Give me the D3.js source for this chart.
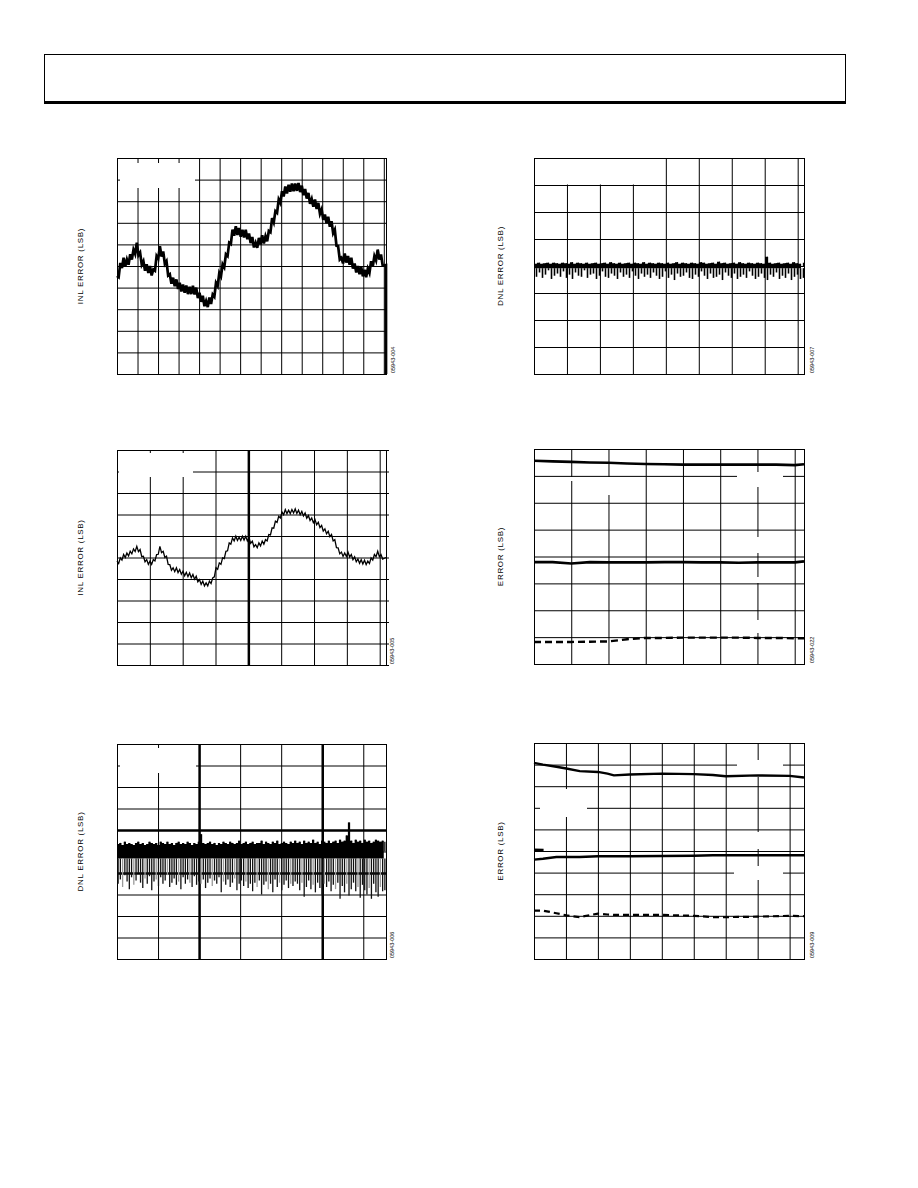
<!DOCTYPE html>
<html><head><meta charset="utf-8">
<script src="https://cdn.jsdelivr.net/npm/d3@7"></script>
<style>
body{margin:0;background:#fff;}
svg{display:block;}
text{font-family:"Liberation Sans",Arial,sans-serif;fill:#000;}
</style></head><body>
<svg id="page" width="918" height="1188"></svg>
<script>
// ---------------- DATA ----------------
// Panel 1: INL vs code (thick trace)
const inl1XTicks = [0,5000,10000,15000,20000,25000,30000,35000,40000,45000,50000,55000,60000,65000];
const inl1YTicks = [-2.5,-2,-1.5,-1,-0.5,0,0.5,1,1.5,2,2.5];
const inl1SampleStep = 402;
const inl1Values = [
-0.23,-0.26,0.07,-0.05,0.19,-0.01,0.15,0.03,0.27,0.15,0.38,0.28,0.54,0.25,0.31,0.03,0.11,-0.11,0.04,-0.16,
0.00,-0.22,-0.08,-0.11,0.23,0.17,0.46,0.22,0.34,0.05,0.11,-0.22,-0.19,-0.41,-0.27,-0.47,-0.31,-0.53,-0.39,-0.59,
-0.43,-0.62,-0.45,-0.65,-0.48,-0.65,-0.46,-0.66,-0.50,-0.74,-0.62,-0.83,-0.69,-0.93,-0.81,-0.95,-0.73,-0.88,-0.66,-0.71,
-0.39,-0.46,-0.16,-0.24,0.04,-0.03,0.27,0.23,0.54,0.51,0.84,0.70,0.92,0.72,0.88,0.68,0.84,0.66,0.84,0.62,
0.75,0.53,0.67,0.43,0.54,0.42,0.65,0.50,0.71,0.52,0.69,0.57,0.81,0.78,1.11,1.01,1.27,1.23,1.54,1.46,
1.73,1.61,1.84,1.68,1.88,1.72,1.91,1.73,1.91,1.74,1.92,1.71,1.86,1.64,1.78,1.56,1.69,1.44,1.55,1.37,
1.54,1.32,1.46,1.21,1.31,1.07,1.19,0.99,1.14,0.91,1.04,0.76,0.84,0.47,0.46,0.15,0.19,0.06,0.29,0.08,
0.23,0.03,0.19,-0.06,0.06,-0.15,0.00,-0.19,-0.02,-0.24,-0.09,-0.26,-0.06,-0.16,0.11,-0.01,0.23,0.13,0.38,0.15,
0.27,0.01
];
const inl1Tail = [[65536,0.02],[65536,-2.5]];

// Panel 2: DNL vs code (top right)
const dnl2XTicks = [0,8000,16000,24000,32000,40000,48000,56000,64000];
const dnl2YTicks = [-1,-0.75,-0.5,-0.25,0,0.25,0.5,0.75,1];
const dnl2BandFloor = -0.02;
const dnl2Hi = [
0.02,0.03,0.02,0.025,0.03,0.02,0.03,0.025,0.02,0.03,
0.025,0.02,0.035,0.02,0.03,0.025,0.02,0.03,0.02,0.025,
0.03,0.02,0.025,0.03,0.02,0.035,0.025,0.02,0.03,0.02,
0.025,0.03,0.02,0.03,0.025,0.02,0.035,0.02,0.03,0.025,
0.02,0.03,0.025,0.02,0.03,0.02,0.025,0.035,0.02,0.03,
0.025,0.02,0.03,0.025,0.02,0.035,0.03,0.02,0.025,0.03,
0.02,0.04,0.025,0.03,0.02,0.025,0.03,0.02,0.035,0.025,
0.02,0.03,0.025,0.02,0.03,0.025,0.02,0.085,0.03,0.02,
0.025,0.03,0.02,0.025,0.03,0.02,0.035,0.025,0.02,0.03];
const dnl2Lo = [
-0.10,-0.06,-0.11,-0.08,-0.04,-0.12,-0.09,-0.07,-0.10,-0.05,
-0.11,-0.08,-0.12,-0.06,-0.09,-0.10,-0.04,-0.11,-0.08,-0.07,
-0.12,-0.09,-0.05,-0.10,-0.11,-0.07,-0.09,-0.12,-0.06,-0.10,
-0.08,-0.11,-0.05,-0.09,-0.12,-0.07,-0.10,-0.08,-0.11,-0.06,
-0.09,-0.12,-0.10,-0.05,-0.11,-0.08,-0.13,-0.07,-0.10,-0.09,
-0.06,-0.11,-0.12,-0.08,-0.10,-0.05,-0.09,-0.12,-0.07,-0.11,
-0.10,-0.08,-0.13,-0.06,-0.09,-0.11,-0.07,-0.12,-0.10,-0.08,
-0.11,-0.05,-0.09,-0.12,-0.10,-0.07,-0.11,-0.13,-0.08,-0.10,
-0.06,-0.12,-0.09,-0.11,-0.07,-0.13,-0.10,-0.08,-0.12,-0.11];

// Panel 3: INL vs code (thin trace)
const inl3XTicks = [0,8000,16000,24000,32000,40000,48000,56000,64000];
const inl3YTicks = [-5,-4,-3,-2,-1,0,1,2,3,4,5];
const inl3SampleStep = 402;
const inl3Values = [
-0.17,-0.28,-0.02,-0.12,0.14,0.00,0.21,0.07,0.29,0.17,0.40,0.28,0.52,0.27,0.37,0.04,0.06,-0.20,-0.10,-0.32,
-0.17,-0.32,-0.10,-0.16,0.14,0.15,0.52,0.23,0.29,0.00,0.06,-0.32,-0.33,-0.59,-0.48,-0.66,-0.48,-0.70,-0.56,-0.78,
-0.64,-0.85,-0.69,-0.89,-0.72,-0.94,-0.79,-1.01,-0.87,-1.13,-1.03,-1.25,-1.10,-1.32,-1.18,-1.32,-1.10,-1.21,-0.95,-0.90,
-0.48,-0.55,-0.25,-0.32,-0.02,-0.05,0.29,0.31,0.68,0.62,0.91,0.77,0.99,0.79,0.94,0.79,0.99,0.81,0.99,0.77,
0.91,0.66,0.76,0.50,0.60,0.46,0.68,0.54,0.76,0.62,0.83,0.77,1.07,1.05,1.38,1.36,1.69,1.63,1.92,1.84,
2.11,1.99,2.23,2.04,2.20,2.04,2.23,2.07,2.26,2.05,2.20,1.99,2.14,1.93,2.07,1.83,1.95,1.72,1.84,1.62,
1.76,1.52,1.64,1.39,1.49,1.23,1.33,1.10,1.22,0.97,1.07,0.77,0.83,0.46,0.45,0.17,0.25,0.05,0.21,0.05,
0.25,0.02,0.14,-0.10,0.03,-0.20,-0.07,-0.27,-0.10,-0.30,-0.13,-0.33,-0.17,-0.28,-0.02,-0.12,0.14,0.04,0.29,0.04,
0.14,-0.07
];
const inl3Tail = [[65536,0.0]];

// Panel 4: error vs temperature (three traces)
const err4XTicks = [-40,-20,0,20,40,60,80,100];
const err4YTicks = [-2,-1.5,-1,-0.5,0,0.5,1,1.5,2];
const err4Temp = [-40,-30,-20,-10,0,10,20,30,40,50,60,70,80,90,100,105];
const err4Top = [1.78,1.77,1.76,1.75,1.745,1.73,1.72,1.715,1.71,1.71,1.71,1.71,1.71,1.71,1.70,1.715];
const err4Mid = [-0.105,-0.105,-0.13,-0.105,-0.11,-0.11,-0.11,-0.105,-0.105,-0.11,-0.11,-0.115,-0.11,-0.11,-0.11,-0.09];
const err4Dash = [-1.59,-1.59,-1.59,-1.585,-1.58,-1.54,-1.515,-1.515,-1.51,-1.51,-1.51,-1.51,-1.515,-1.515,-1.52,-1.52];

// Panel 5: DNL vs code (dense)
const dnl5XTicks = [0,10000,20000,30000,40000,50000,60000];
const dnl5YTicks = [-1,-0.8,-0.6,-0.4,-0.2,0,0.2,0.4,0.6,0.8,1];
const dnl5BandFloor = -0.065;
const dnl5Hi = [
0.07,0.08,0.06,0.09,0.07,0.08,0.07,0.06,0.08,0.09,0.07,0.08,0.06,0.07,0.09,0.08,0.07,0.08,0.06,0.09,
0.08,0.07,0.09,0.07,0.08,0.06,0.08,0.09,0.07,0.08,0.07,0.09,0.08,0.06,0.08,0.07,0.09,0.16,0.08,0.07,
0.08,0.09,0.07,0.08,0.06,0.08,0.07,0.09,0.08,0.07,0.09,0.08,0.07,0.08,0.10,0.07,0.08,0.09,0.07,0.08,
0.09,0.07,0.08,0.08,0.10,0.07,0.09,0.08,0.07,0.09,0.08,0.10,0.07,0.08,0.09,0.08,0.07,0.09,0.08,0.10,
0.08,0.09,0.07,0.10,0.08,0.09,0.08,0.11,0.08,0.09,0.07,0.10,0.09,0.08,0.10,0.08,0.09,0.10,0.08,0.11,
0.09,0.10,0.15,0.27,0.10,0.08,0.11,0.09,0.10,0.08,0.11,0.09,0.10,0.08,0.09,0.11,0.10,0.09,0.10,0.09];
const dnl5Lo = [
-0.30,-0.26,-0.33,-0.22,-0.28,-0.35,-0.24,-0.31,-0.27,-0.20,-0.29,-0.34,-0.25,-0.30,-0.23,-0.36,-0.28,-0.26,-0.32,-0.24,
-0.30,-0.27,-0.22,-0.33,-0.29,-0.25,-0.31,-0.28,-0.35,-0.24,-0.30,-0.26,-0.29,-0.33,-0.23,-0.31,-0.28,-0.30,-0.26,-0.34,
-0.29,-0.25,-0.32,-0.27,-0.30,-0.24,-0.38,-0.28,-0.31,-0.26,-0.33,-0.29,-0.25,-0.36,-0.30,-0.27,-0.32,-0.28,-0.34,-0.30,
-0.37,-0.29,-0.33,-0.27,-0.40,-0.31,-0.28,-0.35,-0.30,-0.38,-0.26,-0.33,-0.29,-0.36,-0.31,-0.27,-0.34,-0.30,-0.32,-0.28,
-0.30,-0.36,-0.29,-0.42,-0.33,-0.27,-0.35,-0.31,-0.38,-0.29,-0.34,-0.40,-0.30,-0.33,-0.28,-0.37,-0.31,-0.35,-0.29,-0.44,
-0.32,-0.38,-0.30,-0.41,-0.35,-0.29,-0.37,-0.33,-0.43,-0.31,-0.36,-0.40,-0.34,-0.44,-0.30,-0.38,-0.42,-0.33,-0.37,-0.36];

// Panel 6: error vs second parameter (three traces + short fragment)
const err6XTicks = [0,100,200,300,400,500,600,700,800];
const err6YTicks = [-2.5,-2,-1.5,-1,-0.5,0,0.5,1,1.5,2,2.5];
const err6X = [0,28,70,101,143,200,230,250,300,400,500,560,600,700,800,845];
const err6Top = [2.04,2.00,1.95,1.91,1.85,1.83,1.79,1.75,1.77,1.79,1.78,1.76,1.73,1.75,1.74,1.70];
const err6Mid = [-0.20,-0.18,-0.14,-0.14,-0.14,-0.12,-0.12,-0.12,-0.12,-0.115,-0.11,-0.10,-0.10,-0.10,-0.10,-0.10];
const err6Dash = [-1.38,-1.38,-1.44,-1.49,-1.53,-1.45,-1.47,-1.48,-1.48,-1.48,-1.50,-1.53,-1.53,-1.52,-1.50,-1.51];
const err6FragX = [0,30];
const err6FragY = [0.03,0.02];

const figCodes = ["05943-004","05943-007","05943-005","05943-022","05943-006","05943-009"];
const yLabels = ["INL ERROR (LSB)","DNL ERROR (LSB)","INL ERROR (LSB)","ERROR (LSB)","DNL ERROR (LSB)","ERROR (LSB)"];

// ---------------- DRAW ----------------
const svg = d3.select("#page");

// header box
svg.append("rect").attr("x",44.5).attr("y",54.5).attr("width",801).attr("height",47)
  .attr("fill","none").attr("stroke","#000").attr("stroke-width",1);
svg.append("line").attr("x1",44).attr("x2",846).attr("y1",102.5).attr("y2",102.5)
  .attr("stroke","#000").attr("stroke-width",3);

function panel(cfg){
  const g = svg.append("g").attr("transform",`translate(${cfg.left},${cfg.top})`);
  const x = d3.scaleLinear().domain(cfg.xDomain).range([0,cfg.w]);
  const y = d3.scaleLinear().domain(cfg.yDomain).range([cfg.h,0]);
  const gx = g.append("g").call(d3.axisBottom(x).tickValues(cfg.xTicks).tickSize(cfg.h).tickFormat(""));
  gx.select(".domain").remove();
  gx.selectAll(".tick line").attr("stroke","#000")
    .attr("stroke-width",d=>(cfg.thickX||[]).includes(d)?2.5:1);
  const gy = g.append("g").call(d3.axisRight(y).tickValues(cfg.yTicks).tickSize(cfg.w+(cfg.tickOut||0)).tickFormat(""));
  gy.select(".domain").remove();
  gy.selectAll(".tick line").attr("stroke","#000")
    .attr("stroke-width",d=>(cfg.thickY||[]).includes(d)?2.5:1);
  (cfg.erase||[]).forEach(r=>{
    g.append("rect").attr("x",r[0]).attr("y",r[1]).attr("width",r[2]).attr("height",r[3]).attr("fill","#fff");
  });
  g.append("rect").attr("x",0.5).attr("y",0.5).attr("width",cfg.w).attr("height",cfg.h)
    .attr("fill","none").attr("stroke","#000").attr("stroke-width",1);
  svg.append("text")
    .attr("transform",`translate(${cfg.labelX},${cfg.top+cfg.h/2}) rotate(-90)`)
    .attr("text-anchor","middle").attr("dominant-baseline","central")
    .attr("font-size",8).attr("letter-spacing",0.7).text(cfg.label);
  svg.append("text")
    .attr("transform",`translate(${cfg.codeX},${cfg.top+cfg.h-1}) rotate(-90)`)
    .attr("text-anchor","start").attr("dominant-baseline","central")
    .attr("font-size",5.5).text(cfg.code);
  const data = g.append("g");
  return {g:data,x,y};
}

// Panel 1
{
  const p = panel({left:117,top:158,w:269,h:216,xDomain:[0,65536],yDomain:[-2.5,2.5],
    xTicks:inl1XTicks,yTicks:inl1YTicks,erase:[[3,5,75,25]],
    label:yLabels[0],labelX:80,code:figCodes[0],codeX:393});
  const pts = inl1Values.map((v,i)=>[i*inl1SampleStep,v]).concat(inl1Tail);
  p.g.append("path").datum(pts)
    .attr("d",d3.line().x(d=>p.x(d[0])).y(d=>p.y(d[1])))
    .attr("fill","none").attr("stroke","#000").attr("stroke-width",2.7).attr("stroke-linejoin","miter");
}

// Panel 2
{
  const p = panel({left:534,top:158,w:270,h:216,xDomain:[0,65536],yDomain:[-1,1],
    xTicks:dnl2XTicks,yTicks:dnl2YTicks,erase:[[1,1,99,25.5]],
    label:yLabels[1],labelX:500,code:figCodes[1],codeX:812});
  const bw = 65536/dnl2Hi.length;
  p.g.append("path").datum(dnl2Hi)
    .attr("d",d3.area().curve(d3.curveStepAfter).x((d,i)=>p.x(i*bw)).y0(p.y(dnl2BandFloor)).y1(d=>p.y(d)))
    .attr("fill","#000");
  p.g.selectAll("line.sp").data(dnl2Lo).join("line")
    .attr("x1",(d,i)=>Math.round(p.x((i+0.5)*bw))+0.5).attr("x2",(d,i)=>Math.round(p.x((i+0.5)*bw))+0.5)
    .attr("y1",p.y(dnl2BandFloor)).attr("y2",d=>p.y(d))
    .attr("stroke","#000").attr("stroke-width",1.6);
  p.g.selectAll("line.up").data(dnl2Hi).join("line")
    .attr("x1",(d,i)=>Math.round(p.x((i+0.5)*bw))+0.5).attr("x2",(d,i)=>Math.round(p.x((i+0.5)*bw))+0.5)
    .attr("y1",p.y(0)).attr("y2",d=>p.y(d))
    .attr("stroke","#000").attr("stroke-width",1.3);
}

// Panel 3
{
  const p = panel({left:117,top:450,w:269,h:215,xDomain:[0,65536],yDomain:[-5,5],
    xTicks:inl3XTicks,yTicks:inl3YTicks,thickX:[32000],tickOut:3,erase:[[2,3,74,24]],
    label:yLabels[2],labelX:80,code:figCodes[2],codeX:392});
  const pts = inl3Values.map((v,i)=>[i*inl3SampleStep,v]).concat(inl3Tail);
  p.g.append("path").datum(pts)
    .attr("d",d3.line().x(d=>p.x(d[0])).y(d=>p.y(d[1])))
    .attr("fill","none").attr("stroke","#000").attr("stroke-width",1.3);
}

// Panel 4
{
  const p = panel({left:534,top:449,w:270,h:215,xDomain:[-40,105],yDomain:[-2,2],
    xTicks:err4XTicks,yTicks:err4YTicks,
    erase:[[35,28,44,4],[39,32,40,14],[203,23,46,15],[216,88,16,16],[216,128,16,6],[216,171,16,13]],
    label:yLabels[3],labelX:500,code:figCodes[3],codeX:812});
  const ln = arr => d3.line().x((d,i)=>p.x(err4Temp[i])).y(d=>p.y(d))(arr);
  p.g.append("path").attr("d",ln(err4Top)).attr("fill","none").attr("stroke","#000").attr("stroke-width",2.6);
  p.g.append("path").attr("d",ln(err4Mid)).attr("fill","none").attr("stroke","#000").attr("stroke-width",2.6);
  p.g.append("path").attr("d",ln(err4Dash)).attr("fill","none").attr("stroke","#000").attr("stroke-width",2.4)
    .attr("stroke-dasharray","7,4");
}

// Panel 5
{
  const p = panel({left:117,top:744,w:269,h:215,xDomain:[0,65536],yDomain:[-1,1],
    xTicks:dnl5XTicks,yTicks:dnl5YTicks,thickX:[20000,50000],thickY:[0.2,-0.2],erase:[[3,4,76,25]],
    label:yLabels[4],labelX:80,code:figCodes[4],codeX:392});
  const bw = 65536/dnl5Hi.length;
  p.g.append("path").datum(dnl5Hi)
    .attr("d",d3.area().curve(d3.curveStepAfter).x((d,i)=>p.x(i*bw)).y0(p.y(dnl5BandFloor)).y1(d=>p.y(d)))
    .attr("fill","#000");
  p.g.selectAll("line.sp").data(dnl5Lo).join("line")
    .attr("x1",(d,i)=>p.x((i+0.5)*bw)).attr("x2",(d,i)=>p.x((i+0.5)*bw))
    .attr("y1",p.y(dnl5BandFloor)).attr("y2",d=>p.y(d))
    .attr("stroke",(d,i)=>i%5===2?"#999":"#111").attr("stroke-width",1.3);
  p.g.selectAll("line.up").data(dnl5Hi).join("line")
    .attr("x1",(d,i)=>p.x((i+0.5)*bw)).attr("x2",(d,i)=>p.x((i+0.5)*bw))
    .attr("y1",p.y(0)).attr("y2",d=>p.y(d))
    .attr("stroke","#000").attr("stroke-width",1.3);
}

// Panel 6
{
  const p = panel({left:534,top:743,w:270,h:216,xDomain:[0,845],yDomain:[-2.5,2.5],
    xTicks:err6XTicks,yTicks:err6YTicks,
    erase:[[203,17,46,17],[6,46,47,28],[200,123,49,14],[216,89,16,17]],
    label:yLabels[5],labelX:500,code:figCodes[5],codeX:812});
  const ln = arr => d3.line().x((d,i)=>p.x(err6X[i])).y(d=>p.y(d))(arr);
  p.g.append("path").attr("d",ln(err6Top)).attr("fill","none").attr("stroke","#000").attr("stroke-width",2.4);
  p.g.append("path").attr("d",ln(err6Mid)).attr("fill","none").attr("stroke","#000").attr("stroke-width",2.4);
  p.g.append("path").attr("d",ln(err6Dash)).attr("fill","none").attr("stroke","#000").attr("stroke-width",2.2)
    .attr("stroke-dasharray","6,4");
  p.g.append("path").attr("d",d3.line().x((d,i)=>p.x(err6FragX[i])).y(d=>p.y(d))(err6FragY))
    .attr("fill","none").attr("stroke","#000").attr("stroke-width",2.6);
}
</script>
</body></html>
